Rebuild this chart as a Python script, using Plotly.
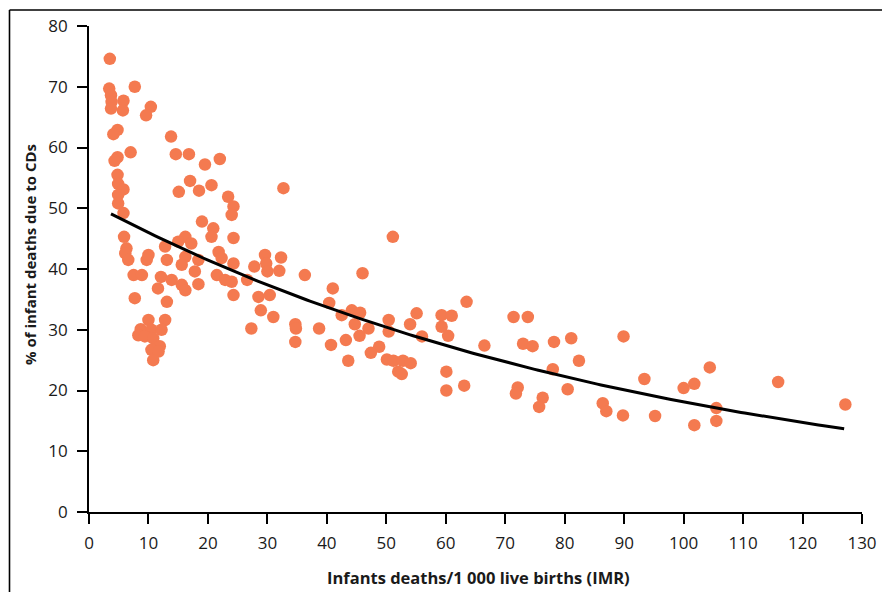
import numpy as np
import plotly.graph_objects as go

imr = [3.5, 3.4, 7.7, 3.7, 3.8, 5.8, 3.7, 5.7, 10.4, 9.6, 4.8, 4.1, 13.8, 7.0, 14.6, 16.8,
       4.8, 4.3, 22.0, 19.5, 4.8, 4.9, 5.8, 17.0, 20.6, 15.1, 18.5, 23.4, 4.9, 32.7,
       4.9, 24.3, 24.0, 5.8, 19.0, 20.9, 20.6, 24.3, 5.9, 16.2, 15.0, 17.2, 12.8, 6.3,
       6.1, 10.0, 16.2, 21.8, 22.3, 13.1, 9.7, 6.6, 18.4, 24.3, 15.6, 7.5, 8.9, 12.1,
       17.8, 21.5, 22.9, 24.0, 13.9, 15.6, 18.4, 16.2, 11.6, 24.3, 7.7, 13.1, 28.5,
       29.6, 28.9, 27.3, 12.8, 10.0, 8.7, 8.3, 10.5, 12.2, 9.4, 10.8, 11.9, 10.5, 11.7,
       10.8, 51.1, 32.3, 27.8, 29.8, 30.0, 32.0, 36.3, 46.0, 26.6, 41.0, 30.4, 40.4,
       31.0, 42.5, 44.2, 45.6, 44.7, 47.0, 50.4, 50.4, 54.0, 55.1, 56.0, 59.3, 61.0,
       59.3, 60.4, 34.7, 34.8, 38.7, 34.7, 43.2, 45.5, 40.7, 48.8, 47.4, 43.6, 50.1,
       51.2, 52.8, 54.1, 52.0, 52.6, 60.1, 60.1, 63.5, 71.4, 73.8, 66.5, 73.0, 74.6,
       78.2, 81.1, 89.9, 82.4, 78.0, 63.1, 72.1, 71.8, 76.3, 75.7, 80.5, 93.4, 86.4,
       87.0, 89.8, 95.2, 104.4, 100.0, 101.8, 115.9, 105.5, 105.5, 101.8, 127.2]

pct_cd = [74.6, 69.7, 70.0, 68.6, 67.5, 67.7, 66.4, 66.1, 66.7, 65.3, 62.9, 62.2, 61.8, 59.2, 58.9, 58.9,
          58.4, 57.8, 58.1, 57.2, 55.5, 54.0, 53.1, 54.5, 53.8, 52.7, 52.9, 51.9, 52.2, 53.3,
          50.8, 50.3, 48.9, 49.2, 47.8, 46.7, 45.3, 45.1, 45.3, 45.3, 44.5, 44.2, 43.7, 43.4,
          42.6, 42.3, 42.0, 42.8, 41.8, 41.5, 41.5, 41.5, 41.5, 40.9, 40.7, 39.0, 39.0, 38.7,
          39.6, 39.0, 38.2, 37.9, 38.2, 37.4, 37.5, 36.5, 36.8, 35.7, 35.2, 34.6, 35.4,
          42.3, 33.2, 30.2, 31.6, 31.6, 30.1, 29.1, 30.0, 30.0, 28.9, 28.6, 27.3, 26.7, 26.4,
          25.0, 45.3, 41.9, 40.4, 40.9, 39.6, 39.7, 39.0, 39.3, 38.2, 36.8, 35.7, 34.4,
          32.1, 32.4, 33.2, 32.8, 30.9, 30.2, 31.6, 29.7, 30.9, 32.7, 28.9, 32.4, 32.3,
          30.5, 29.0, 30.9, 30.2, 30.2, 28.0, 28.3, 29.0, 27.5, 27.2, 26.2, 24.9, 25.1,
          24.9, 24.9, 24.5, 23.1, 22.7, 23.1, 20.0, 34.6, 32.1, 32.1, 27.4, 27.7, 27.3,
          28.0, 28.6, 28.9, 24.9, 23.5, 20.8, 20.5, 19.5, 18.8, 17.3, 20.2, 21.9, 17.9,
          16.6, 15.9, 15.8, 23.8, 20.4, 21.1, 21.4, 17.1, 15.0, 14.3, 17.7]

x_title = "Infants deaths/1 000 live births (IMR)"
y_title = "% of infant deaths due to CDs"

# exponential trend fit coefficients (y = a * exp(b * x)), as drawn
trend_a = 51.0
trend_b = -0.01035
trend_x_start = 3.7
trend_x_end = 127.0

tx = np.linspace(trend_x_start, trend_x_end, 200)
ty = trend_a * np.exp(trend_b * tx)

fig = go.Figure()
fig.add_trace(go.Scatter(
    x=imr, y=pct_cd, mode="markers",
    marker=dict(color="#F47A50", size=12.5, line=dict(width=0)),
    showlegend=False, hoverinfo="x+y"))
fig.add_trace(go.Scatter(
    x=tx, y=ty, mode="lines", line=dict(color="black", width=3),
    showlegend=False, hoverinfo="skip"))

# page body has an 8px margin; lay out in page pixels and shift
OFF = 8
W, H = 890 - OFF, 592 - OFF
L, R, T, B = 89 - OFF, 862 - OFF, 26 - OFF, 512 - OFF
def px(p):
    return (p - OFF - L) / (R - L)
def py(p):
    return (B - (p - OFF)) / (B - T)

fam = "Open Sans, Noto Sans, sans-serif"
axis_font = dict(family=fam, size=17, color="#1a1a1a")

fig.update_layout(
    width=W, height=H,
    margin=dict(l=L, r=W - R, t=T, b=H - B, autoexpand=False),
    paper_bgcolor="white", plot_bgcolor="white",
    xaxis=dict(range=[0, 130], tick0=0, dtick=10, showgrid=False, zeroline=False,
               showline=True, linecolor="black", linewidth=1.6, automargin=False,
               ticks="outside", ticklen=10, tickwidth=1.6, tickcolor="black",
               ticklabelstandoff=5, tickfont=axis_font, fixedrange=True),
    yaxis=dict(range=[0, 80], tick0=0, dtick=10, showgrid=False, zeroline=False,
               showline=True, linecolor="black", linewidth=1.6, automargin=False,
               ticks="outside", ticklen=10, tickwidth=1.6, tickcolor="black",
               ticklabelstandoff=6, tickfont=axis_font, fixedrange=True),
    annotations=[
        dict(text="<b>" + x_title + "</b>", xref="paper", yref="paper",
             x=px(478), y=py(577), xanchor="center", yanchor="middle",
             showarrow=False, font=dict(family=fam, size=16.5, color="#1a1a1a")),
        dict(text="<b>" + y_title + "</b>", xref="paper", yref="paper",
             x=px(30), y=py(255), xanchor="center", yanchor="middle",
             textangle=-90, showarrow=False, font=dict(family=fam, size=15, color="#1a1a1a")),
    ],
    shapes=[
        dict(type="line", xref="paper", yref="paper",
             x0=px(9.5), x1=px(900), y0=py(10), y1=py(10),
             line=dict(color="black", width=1.6)),
        dict(type="line", xref="paper", yref="paper",
             x0=px(9.5), x1=px(9.5), y0=py(10), y1=py(600),
             line=dict(color="black", width=1.6)),
    ],
)

fig.write_html("out.html")
